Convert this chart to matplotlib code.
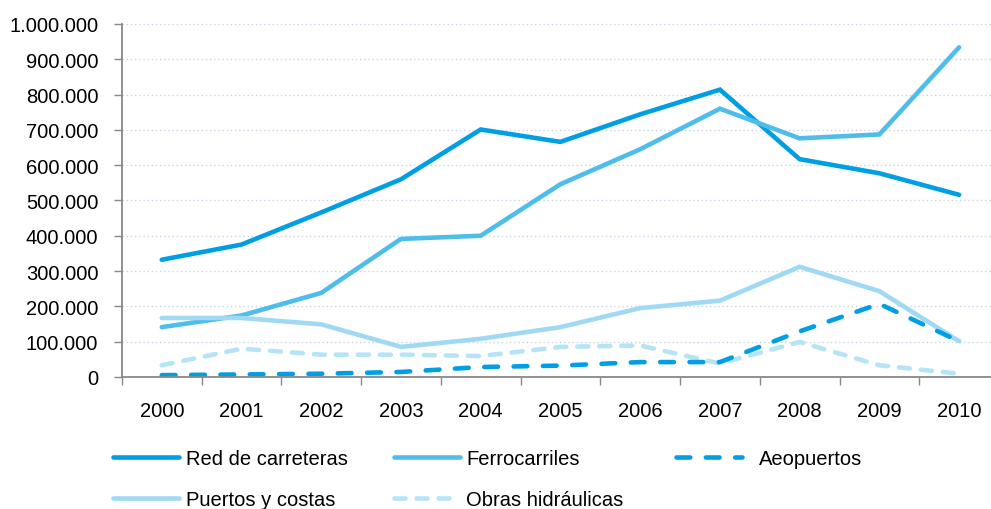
import matplotlib.pyplot as plt
from matplotlib.ticker import FuncFormatter
from matplotlib import font_manager

years = ["2000", "2001", "2002", "2003", "2004", "2005", "2006", "2007", "2008", "2009", "2010"]

red_carreteras = [332000, 375000, 466000, 560000, 701000, 666000, 744000, 814000, 617000, 577000, 516000]
ferrocarriles = [141000, 174000, 238000, 391000, 400000, 546000, 645000, 760000, 676000, 687000, 934000]
aeropuertos = [5000, 7000, 9000, 14000, 28000, 32000, 42000, 42000, 129000, 207000, 101000]
puertos = [167000, 167000, 149000, 85000, 108000, 141000, 195000, 216000, 312000, 243000, 101000]
obras = [33000, 80000, 63000, 63000, 59000, 85000, 89000, 38000, 99000, 33000, 9000]

names = [f.name for f in font_manager.fontManager.ttflist]
if "Liberation Sans Narrow" in names:
    plt.rcParams["font.family"] = ["Liberation Sans Narrow", "DejaVu Sans"]
else:
    plt.rcParams["font.family"] = ["Liberation Sans", "DejaVu Sans"]

OSCURO = "#009fe3"
MEDIO = "#4fbdea"
CLARO = "#9fd9f3"
MUY_CLARO = "#b6e4f7"

fig = plt.figure(figsize=(9.91, 5.10), dpi=100)
ax = fig.add_axes([0.123, 0.259, 0.877, 0.692])

x = range(len(years))
lw = 3.3

l1, = ax.plot(x, red_carreteras, color=OSCURO, lw=lw, solid_capstyle="round",
              solid_joinstyle="miter", label="Red de carreteras")
l2, = ax.plot(x, ferrocarriles, color=MEDIO, lw=lw, solid_capstyle="round",
              solid_joinstyle="miter", label="Ferrocarriles")
l4, = ax.plot(x, puertos, color=CLARO, lw=lw, solid_capstyle="round",
              solid_joinstyle="miter", label="Puertos y costas")
l5, = ax.plot(x, obras, color=MUY_CLARO, lw=lw, dashes=(2.4, 2.4),
              dash_capstyle="round", label="Obras hidráulicas")
l3, = ax.plot(x, aeropuertos, color=OSCURO, lw=lw, dashes=(3.0, 3.4),
              dash_capstyle="round", label="Aeopuertos")

ax.set_xlim(-0.5, 10.4)
ax.set_ylim(0, 1000000)
ax.set_yticks(range(0, 1000001, 100000))
ax.yaxis.set_major_formatter(FuncFormatter(lambda v, p: f"{int(v):,}".replace(",", ".")))

ax.set_xticks([i - 0.5 for i in range(11)])
ax.set_xticklabels([])
ax.set_xticks(list(x), minor=True)
ax.set_xticklabels(years, minor=True)
ax.tick_params(axis="x", which="minor", length=0, pad=17, labelsize=14.5)
ax.tick_params(axis="x", which="major", length=6, color="#888888", width=1)
ax.tick_params(axis="y", length=6, color="#888888", width=1, labelsize=14.5, pad=11)

ax.grid(axis="y", color="#c8d4e6", linestyle=(0, (1, 2)), lw=1)
ax.set_axisbelow(True)
for s in ["top", "right"]:
    ax.spines[s].set_visible(False)
for s in ["left", "bottom"]:
    ax.spines[s].set_color("#888888")
    ax.spines[s].set_linewidth(1.3)

leg_kw = dict(frameon=False, fontsize=14.5, handlelength=3.3, handletextpad=0.3,
              labelspacing=1.1, borderpad=0, borderaxespad=0)
top = 1 - 450 / 510
fig.legend(handles=[l1, l4], loc="upper left", bbox_to_anchor=(113 / 991, top), **leg_kw)
fig.legend(handles=[l2, l5], loc="upper left", bbox_to_anchor=(394 / 991, top), **leg_kw)
fig.legend(handles=[l3], loc="upper left", bbox_to_anchor=(676 / 991, top),
           **{**leg_kw, "handletextpad": 0.8})

fig.savefig("out.png", dpi=100)
